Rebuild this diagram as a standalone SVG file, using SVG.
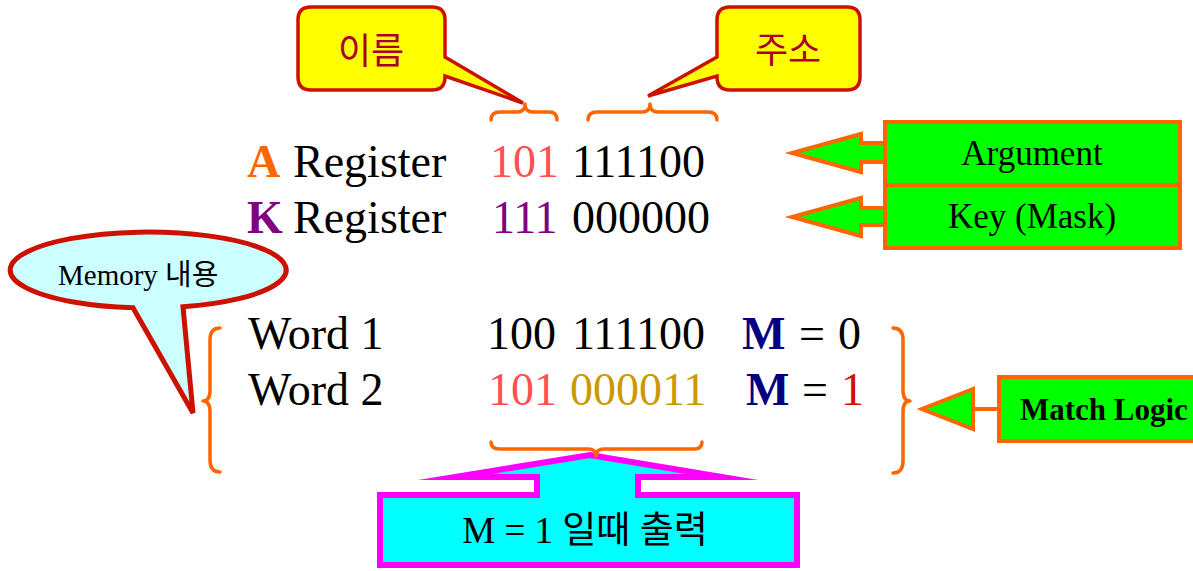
<svg xmlns="http://www.w3.org/2000/svg" width="1193" height="571" viewBox="0 0 1193 571">
  <style>
    .t { font-family: "Liberation Serif", "Noto Sans CJK KR", serif; fill: #000; }
    .kr { font-family: "Noto Sans CJK KR", "Noto Sans", sans-serif; }
    .big { font-size: 46px; }
    .bold { font-weight: bold; }
    .brace { fill: none; stroke: #FF6600; stroke-width: 3.5; stroke-linejoin: round; stroke-linecap: round; }
    .callout { fill: #FFFF00; stroke: #CC1100; stroke-width: 3.5; stroke-linejoin: miter; }
    .greenbox { fill: #00FF00; stroke: #FF6600; stroke-width: 4; }
  </style>

  <!-- name field callout -->
  <g id="callout-name">
    <path class="callout" d="M311,7 H432 Q445,7 445,20 V57 L523,103 L445,76 V77 Q445,90 432,90 H311 Q298,90 298,77 V20 Q298,7 311,7 Z"/>
    <text class="kr" x="371" y="64" font-size="36" fill="#A8002A" text-anchor="middle">이름</text>
  </g>

  <!-- address field callout -->
  <g id="callout-address">
    <path class="callout" d="M730,7 H847 Q860,7 860,20 V77 Q860,90 847,90 H730 Q717,90 717,77 V76 L648,96 L717,57 V20 Q717,7 730,7 Z"/>
    <text class="kr" x="788" y="63" font-size="36" fill="#A8002A" text-anchor="middle">주소</text>
  </g>

  <!-- registers -->
  <g id="registers">
    <text class="t big" y="177"><tspan x="247" class="bold" fill="#FF6600">A</tspan><tspan x="293">Register</tspan><tspan x="490" fill="#FF5050">101</tspan><tspan x="572">111100</tspan></text>
    <text class="t big" y="233"><tspan x="247" class="bold" fill="#800080">K</tspan><tspan x="293">Register</tspan><tspan x="492" fill="#800080">111</tspan><tspan x="572">000000</tspan></text>
  </g>

  <!-- argument register source -->
  <g id="argument">
    <path class="greenbox" d="M885,143 H861 V134 L792,153 L861,172 V162 H885"/>
    <rect class="greenbox" x="885" y="122" width="295" height="63"/>
    <text class="t" x="1032" y="165" font-size="35" text-anchor="middle">Argument</text>
  </g>

  <!-- key register source -->
  <g id="key">
    <path class="greenbox" d="M885,208 H861 V198 L792,217 L861,236 V225 H885"/>
    <rect class="greenbox" x="885" y="185" width="295" height="63"/>
    <text class="t" x="1032" y="228" font-size="35" text-anchor="middle">Key (Mask)</text>
  </g>

  <!-- memory contents balloon -->
  <g id="memory-balloon">
    <path d="M133,307.8 A138,38 0 1 1 183,306.8 L193,413 Z" fill="#CCFFFF" stroke="#CC1100" stroke-width="5" stroke-linejoin="miter"/>
    <text class="t" x="58" y="285" font-size="29">Memory 내용</text>
  </g>

  <!-- memory words -->
  <g id="words">
    <text class="t big" y="349"><tspan x="248">Word 1</tspan><tspan x="487">100</tspan><tspan x="572">111100</tspan><tspan x="742" class="bold" fill="#000080">M</tspan><tspan x="799">=</tspan><tspan x="838">0</tspan></text>
    <text class="t big" y="405"><tspan x="248">Word 2</tspan><tspan x="488" fill="#FF5050">101</tspan><tspan x="570" fill="#CC9900">000011</tspan><tspan x="746" class="bold" fill="#000080">M</tspan><tspan x="802">=</tspan><tspan x="841" fill="#CC1100">1</tspan></text>
  </g>

  <!-- match logic source -->
  <g id="match-logic">
    <line x1="973" y1="409" x2="1000" y2="409" stroke="#FF6600" stroke-width="4"/>
    <path class="greenbox" d="M973,389 L922,409 L973,429 Z"/>
    <rect class="greenbox" x="999" y="377" width="210" height="64"/>
    <text class="t bold" x="1020" y="420" font-size="31">Match Logic</text>
  </g>

  <!-- output -->
  <g id="output">
    <path d="M380,495 H537 V477 H455 L590,455 L722,477 H638 V495 H797 V565 H380 Z" fill="#00FFFF" stroke="#FF00FF" stroke-width="6" stroke-miterlimit="20"/>
    <text class="t" x="585" y="543" font-size="37" text-anchor="middle">M = 1 일때 출력</text>
  </g>

  <!-- braces -->
  <g id="connectors">
    <path class="brace" d="M491,120 Q491,112 500,112 H517 Q525,112 525,104 Q525,112 533,112 H549 Q557,112 557,120"/>
    <path class="brace" d="M588,120 Q588,112 597,112 H642 Q650,112 650,104 Q650,112 658,112 H708 Q717,112 717,120"/>
    <path class="brace" d="M220,328 Q210,328 210,340 V390 Q210,401 203,401 Q210,401 210,412 V460 Q210,472 220,472"/>
    <path class="brace" d="M893,328 Q903,328 903,340 V390 Q903,401 910,401 Q903,401 903,412 V461 Q903,473 893,473"/>
    <path class="brace" d="M491,442 Q491,449 500,449 H588 Q596,449 596,456 Q596,449 604,449 H694 Q702,449 702,442"/>
  </g>
</svg>
